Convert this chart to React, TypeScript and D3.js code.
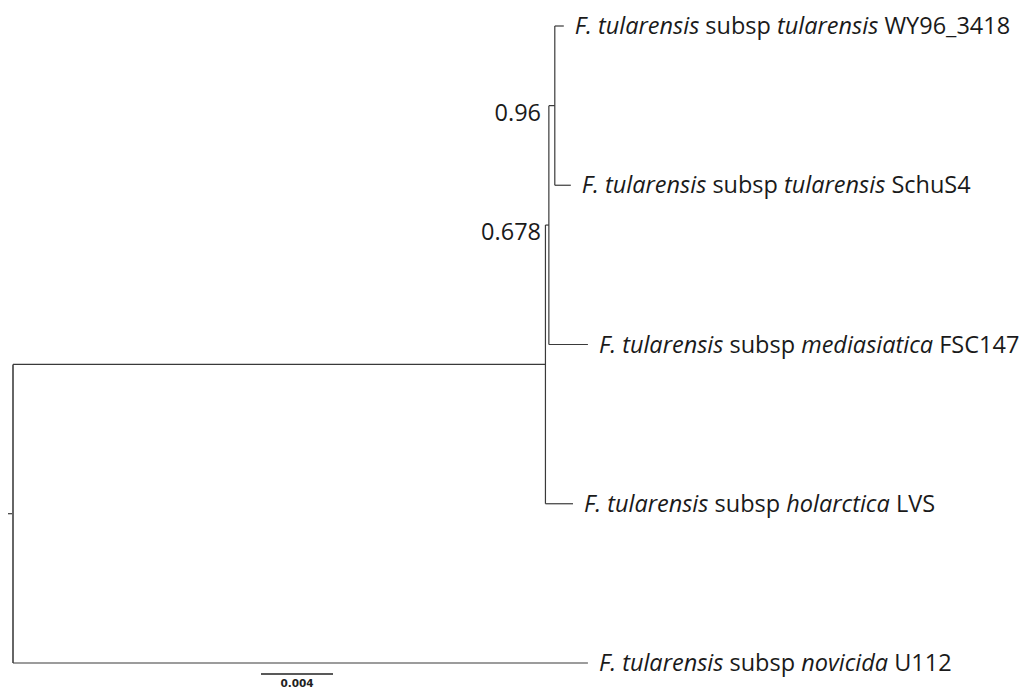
import * as d3 from "d3";

// leaf order top to bottom, and the label pieces (italic flags)
const leafNames = ["WY96_3418", "SchuS4", "FSC147", "LVS", "U112"];
const subspNames = ["tularensis", "tularensis", "mediasiatica", "holarctica", "novicida"];

// branch lengths (substitutions/site), read against the 0.004 scale bar
const internalNames = ["root", "A", "B", "C"];
const parentOf = { A: "root", B: "A", C: "B", WY96_3418: "C", SchuS4: "C", FSC147: "B", LVS: "A", U112: "root" };
const branchLength = { root: 0, A: 0.02958, B: 0.00019, C: 0.00033, WY96_3418: 0.0005, SchuS4: 0.00089, FSC147: 0.00217, LVS: 0.00153, U112: 0.03194 };
const support = { B: "0.678", C: "0.96" };
const scaleBarValue = 0.004;

const W = 1026;
const H = 690;

type N = { id: string; parentId: string | null };

const rows: N[] = [...internalNames, ...leafNames].map((id) => ({
  id,
  parentId: parentOf[id] ?? null,
}));

const PhyloTree = () => {
  const root = d3
    .stratify<N>()
    .id((d) => d.id)
    .parentId((d) => d.parentId)(rows);

  // keep children in picture order
  const order = [...internalNames, ...leafNames];
  root.sort((a, b) => {
    const la = a.leaves()[0].id!, lb = b.leaves()[0].id!;
    return leafNames.indexOf(la) - leafNames.indexOf(lb) || order.indexOf(a.id!) - order.indexOf(b.id!);
  });

  // 72px per 0.004
  const xScale = d3.scaleLinear().domain([0, 0.004]).range([13, 85]);
  const yScale = d3.scalePoint<string>().domain(leafNames).range([26, 663]);

  const depth = new Map<string, number>();
  const ypos = new Map<string, number>();
  root.eachBefore((n) => {
    depth.set(n.id!, (n.parent ? depth.get(n.parent.id!)! : 0) + branchLength[n.id!]);
  });
  root.eachAfter((n) => {
    if (!n.children) ypos.set(n.id!, yScale(n.id!)!);
    else ypos.set(n.id!, d3.mean(n.children, (c) => ypos.get(c.id!)!)!);
  });

  const X = (n) => xScale(depth.get(n.id!)!);
  const Y = (n) => ypos.get(n.id!)!;

  const stroke = "#3a3a3a";
  const font = "'Open Sans', 'Noto Sans', sans-serif";
  const fs = 23.5;

  return (
    <svg width={W} height={H} style={{ display: "block", position: "absolute", left: 0, top: 0 }}>
      <rect width={W} height={H} fill="#fff" />
      {/* root stub */}
      <line x1={X(root) - 5} x2={X(root)} y1={Y(root)} y2={Y(root)} stroke={stroke} strokeWidth={1.2} />
      {/* verticals at internal nodes */}
      {root.descendants().filter((n) => n.children).map((n) => {
        const ys = n.children!.map(Y);
        return (
          <line
            key={"v" + n.id}
            x1={X(n)}
            x2={X(n)}
            y1={d3.min(ys)}
            y2={d3.max(ys)}
            stroke={n === root ? "#666" : stroke}
            strokeWidth={n === root ? 2 : 1.2}
          />
        );
      })}
      {/* horizontal branches */}
      {root.descendants().filter((n) => n.parent).map((n) => (
        <line
          key={"h" + n.id}
          x1={X(n.parent)}
          x2={X(n)}
          y1={Y(n)}
          y2={Y(n)}
          stroke={stroke}
          strokeWidth={1.2}
        />
      ))}
      {/* support values */}
      {root.descendants().filter((n) => support[n.id!]).map((n) => (
        <text
          key={"s" + n.id}
          x={541}
          y={Y(n) + 15}
          textAnchor="end"
          fontFamily={font}
          fontSize={fs}
          fill="#1a1a1a"
        >
          {support[n.id!]}
        </text>
      ))}
      {/* leaf labels */}
      {root.leaves().map((n) => {
        const i = leafNames.indexOf(n.id!);
        return (
          <text
            key={"l" + n.id}
            x={X(n) + 11}
            y={Y(n) + 8}
            fontFamily={font}
            fontSize={fs}
            fill="#1a1a1a"
          >
            <tspan fontStyle="italic">F. tularensis</tspan>
            <tspan> subsp </tspan>
            <tspan fontStyle="italic">{subspNames[i]}</tspan>
            <tspan> {leafNames[i]}</tspan>
          </text>
        );
      })}
      {/* scale bar */}
      <line
        x1={261}
        x2={261 + (xScale(scaleBarValue) - xScale(0))}
        y1={674}
        y2={674}
        stroke="#222"
        strokeWidth={1.5}
      />
      <text
        x={261 + (xScale(scaleBarValue) - xScale(0)) / 2}
        y={687}
        textAnchor="middle"
        fontFamily="'DejaVu Sans', sans-serif"
        fontWeight="bold"
        fontSize={10.5}
        fill="#222"
      >
        {scaleBarValue}
      </text>
    </svg>
  );
};

export default function App() {
  return <PhyloTree />;
}
